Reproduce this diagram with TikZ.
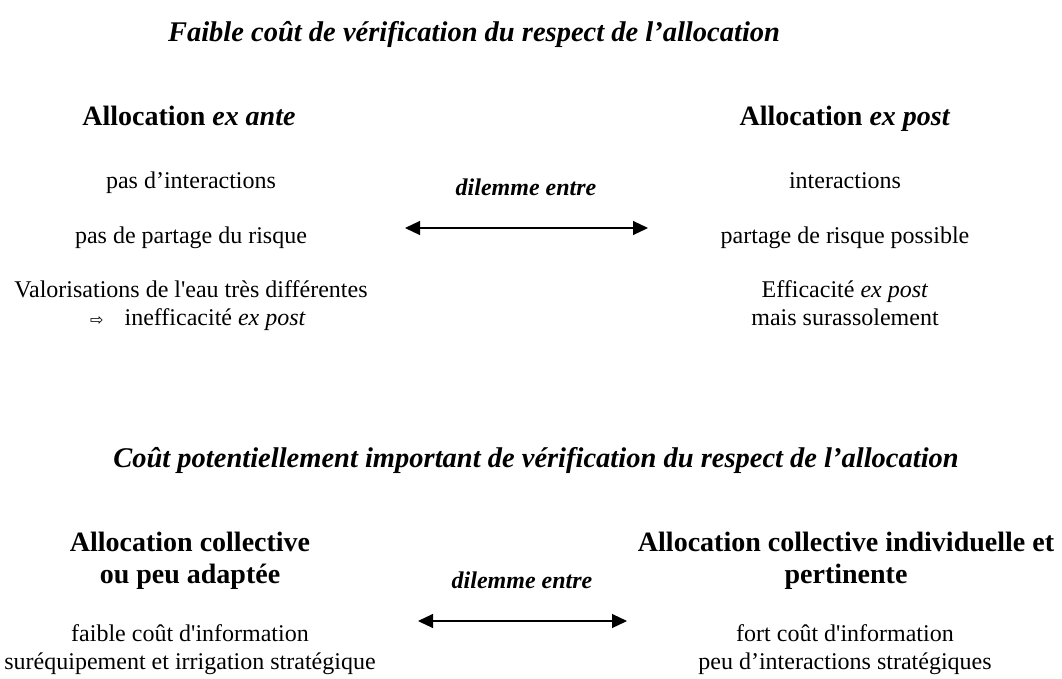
\documentclass[tikz,border=0pt]{standalone}
\usepackage{fontspec}
\setmainfont{Liberation Serif}
\newfontfamily\rmplain{Liberation Serif}
\newfontfamily\symfont{DejaVu Sans}
\newcommand\sq{{\rmplain'}}
\usetikzlibrary{arrows.meta}
\tikzset{
  body/.style={anchor=base,inner sep=0pt,font=\fontsize{24}{27}\selectfont,align=center},
  head/.style={anchor=base,inner sep=0pt,font=\fontsize{28}{32}\selectfont\bfseries,align=center},
  ttl/.style={anchor=base,inner sep=0pt,font=\fontsize{28.5}{32}\selectfont\bfseries\itshape},
  dil/.style={anchor=base,inner sep=0pt,font=\fontsize{24}{27}\selectfont\bfseries\itshape},
  dbl/.style={{Triangle[length=15pt,width=14pt]}-{Triangle[length=15pt,width=14pt]},line width=1.1pt}
}
\begin{document}
\begin{tikzpicture}[x=1pt,y=-1pt]
\useasboundingbox (0,0) rectangle (1062,678);
% top block
\node[ttl] (t1) at (474,41) {Faible coût de vérification du respect de l’allocation};
\node[head] (h1) at (189,125) {Allocation \textit{ex ante}};
\node[head] (h2) at (845,125) {Allocation \textit{ex post}};
\node[body] (a1) at (191,188) {pas d’interactions};
\node[body] (a2) at (191,243) {pas de partage du risque};
\node[body] (a3) at (191,297) {Valorisations de l\sq eau très différentes};
\node[body,anchor=base west] (a4) at (90,325) {{\symfont\fontsize{16}{18}\selectfont ⇨}\hspace{21pt}inefficacité \textit{ex post}};
\node[dil] (d1) at (526,195) {dilemme entre};
\node[body] (b1) at (845,188) {interactions};
\node[body] (b2) at (845,243) {partage de risque possible};
\node[body] (b3) at (845,297) {Efficacité \textit{ex post}};
\node[body] (b4) at (845,325) {mais surassolement};
\coordinate (l1) at (405,228);
\coordinate (r1) at (648,228);
\draw[dbl] (l1) -- (r1);
% bottom block
\node[ttl] (t2) at (536,467) {Coût potentiellement important de vérification du respect de l’allocation};
\node[head] (h3) at (190,551) {Allocation collective};
\node[head] (h4) at (190,583) {ou peu adaptée};
\node[head] (h5) at (846,551) {Allocation collective individuelle et};
\node[head] (h6) at (846,583) {pertinente};
\node[dil] (d2) at (522,588) {dilemme entre};
\node[body] (c1) at (190,641) {faible coût d\sq information};
\node[body] (c2) at (190,669) {suréquipement et irrigation stratégique};
\node[body] (e1) at (845,641) {fort coût d\sq information};
\node[body] (e2) at (845,669) {peu d’interactions stratégiques};
\coordinate (l2) at (418,621);
\coordinate (r2) at (627,621);
\draw[dbl] (l2) -- (r2);
\end{tikzpicture}
\end{document}
